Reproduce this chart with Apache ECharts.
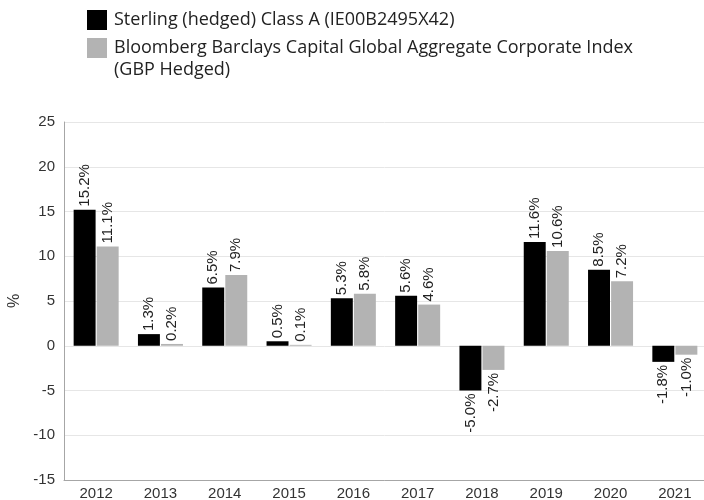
<!DOCTYPE html>
<html>
<head>
<meta charset="utf-8">
<script src="https://cdn.jsdelivr.net/npm/echarts@6/dist/echarts.min.js"></script>
<style>
  html, body { margin: 0; padding: 0; background: #fff; }
  #main { width: 704px; height: 500px; }
</style>
</head>
<body>
<div id="main"></div>
<script>
// years on the x axis
var years = ['2012', '2013', '2014', '2015', '2016', '2017', '2018', '2019', '2020', '2021'];
// annual returns, %
var fundValues = [15.2, 1.3, 6.5, 0.5, 5.3, 5.6, -5.0, 11.6, 8.5, -1.8];
var indexValues = [11.1, 0.2, 7.9, 0.1, 5.8, 4.6, -2.7, 10.6, 7.2, -1.0];
var fundName = 'Sterling (hedged) Class A (IE00B2495X42)';
var indexName = 'Bloomberg Barclays Capital Global Aggregate Corporate Index';
var indexNameTail = '(GBP Hedged)';

function barData(values) {
  // negative bars get their label under the bar
  return values.map(function (v) {
    if (v < 0) {
      return { value: v, label: { position: 'bottom', align: 'right' } };
    }
    return v;
  });
}

var labelStyle = {
  show: true,
  position: 'top',
  rotate: 90,
  align: 'left',
  verticalAlign: 'middle',
  distance: 3,
  color: '#222',
  fontFamily: 'Liberation Sans',
  fontSize: 15,
  formatter: function (p) { return p.value.toFixed(1) + '%'; }
};

var chart = echarts.init(document.getElementById('main'));
chart.setOption({
  animation: false,
  legend: {
    orient: 'vertical',
    left: 87,
    top: 10,
    padding: 0,
    itemWidth: 20,
    itemHeight: 20,
    itemGap: 8,
    icon: 'rect',
    textStyle: { fontFamily: 'Open Sans', fontSize: 18, color: '#222', padding: [0, 0, 0, 2] },
    data: [fundName, indexName]
  },
  graphic: [{
    type: 'text',
    left: 114,
    top: 61,
    style: { text: indexNameTail, fontFamily: 'Open Sans', fontSize: 18, fill: '#222' }
  }],
  grid: { left: 64, right: -3, top: 122, bottom: 20, outerBoundsMode: 'none' },
  xAxis: {
    type: 'category',
    data: years,
    axisLine: { onZero: false, lineStyle: { color: '#a6a6a6' } },
    axisTick: { show: false },
    axisLabel: { color: '#333', fontFamily: 'Liberation Sans', fontSize: 15, margin: 6 }
  },
  yAxis: {
    type: 'value',
    min: -15,
    max: 25,
    interval: 5,
    name: '%',
    nameLocation: 'middle',
    nameRotate: 90,
    nameGap: 40,
    nameTextStyle: { color: '#333', fontFamily: 'Liberation Sans', fontSize: 16 },
    axisLine: { show: true, lineStyle: { color: '#a6a6a6' } },
    axisTick: { show: false },
    axisLabel: { color: '#333', fontFamily: 'Liberation Sans', fontSize: 15, margin: 9 },
    splitLine: { lineStyle: { color: '#e6e6e6' } }
  },
  series: [{
    name: fundName,
    type: 'bar',
    data: barData(fundValues),
    itemStyle: { color: '#000' },
    barGap: '5%',
    barCategoryGap: '30%',
    label: labelStyle
  }, {
    name: indexName,
    type: 'bar',
    data: barData(indexValues),
    itemStyle: { color: '#b3b3b3' },
    label: labelStyle
  }]
});
</script>
</body>
</html>
